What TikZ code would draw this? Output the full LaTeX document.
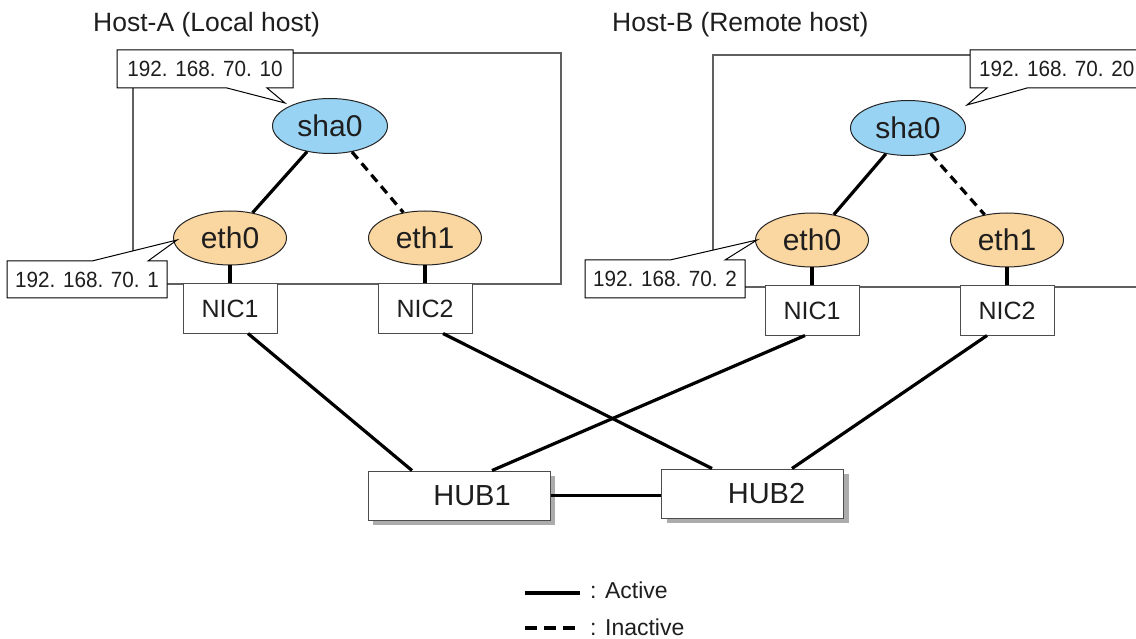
\documentclass[tikz,border=0pt]{standalone}
\usepackage{fontspec}
\setmainfont{Liberation Sans}
\usetikzlibrary{shapes.geometric,shadows,calc}
\definecolor{shablue}{RGB}{152,211,243}
\definecolor{ethorange}{RGB}{250,214,160}
\definecolor{txt}{RGB}{30,30,30}
\newcommand{\ipnum}[1]{\scalebox{0.94}[1]{#1}}
\begin{document}
\begin{tikzpicture}[x=1pt,y=-1pt,
  every node/.style={text=txt},
  hostbox/.style={draw=gray!75!black, line width=2pt},
  ifsha/.style={ellipse, draw=black!85, line width=1pt, fill=shablue, minimum width=115pt, minimum height=55pt, inner sep=0pt, font=\fontsize{30}{36}\selectfont},
  ifeth/.style={ellipse, draw=black!85, line width=1pt, fill=ethorange, minimum width=113pt, minimum height=54pt, inner sep=0pt, font=\fontsize{30}{36}\selectfont},
  nicbox/.style={draw=black!70, line width=1pt, fill=white, minimum width=94pt, minimum height=49pt, inner sep=0pt, font=\fontsize{25}{30}\selectfont},
  hubbox/.style={draw=black!70, line width=1pt, fill=white, minimum width=182pt, minimum height=49pt, inner sep=0pt, drop shadow={shadow xshift=5pt, shadow yshift=-5pt, fill=gray!65, opacity=1}, font=\fontsize{29}{34}\selectfont},
  callout/.style={draw=black, line width=1pt, fill=white},
  iptext/.style={font=\fontsize{22}{26}\selectfont, inner sep=0pt},
  title/.style={font=\fontsize{26.5}{32}\selectfont, inner sep=0pt, anchor=base west},
  legendtext/.style={font=\fontsize{23}{28}\selectfont, inner sep=0pt, anchor=base west},
  active/.style={draw=black, line width=3.2pt},
  inactive/.style={draw=black, line width=3.2pt, dash pattern=on 9pt off 6pt},
]
\fill[white] (0,0) rectangle (1136,639);
\useasboundingbox (0,0) rectangle (1136,639);
\clip (0,0) rectangle (1136,639);

% titles
\node[title] (titleA) at (93,32) {Host-A (Local host)};
\node[title] (titleB) at (612,32) {Host-B (Remote host)};

% host boxes
\draw[hostbox] (133,53) rectangle (561,284);
\draw[hostbox] (1145,55) -- (713,55) -- (713,287) -- (1145,287);

% interfaces
\node[ifsha] (shaA) at (330,126) {sha0};
\node[ifeth] (eth0A) at (230,238) {eth0};
\node[ifeth] (eth1A) at (425,238) {eth1};
\node[ifsha] (shaB) at (908,128) {sha0};
\node[ifeth] (eth0B) at (812,240) {eth0};
\node[ifeth] (eth1B) at (1007,240) {eth1};

% NICs
\node[nicbox] (nic1A) at (230,308.5) {NIC1};
\node[nicbox] (nic2A) at (425,308.5) {NIC2};
\node[nicbox] (nic1B) at (812,310.5) {NIC1};
\node[nicbox] (nic2B) at (1007,310.5) {NIC2};

% hubs
\node[hubbox] (hub1) at (459,495.5) {\hspace*{26pt}HUB1};
\node[hubbox] (hub2) at (752.5,493.5) {\hspace*{28pt}HUB2};

% callouts
\draw[callout] (117,50) -- (293,50) -- (293,88) -- (267,88) -- (285,103) -- (227,88) -- (117,88) -- cycle;
\node[iptext] (ipA0) at (205,69) {\ipnum{192. 168. 70. 10}};
\draw[callout] (7,261) -- (92,261) -- (177,240) -- (148,261) -- (167,261) -- (167,298) -- (7,298) -- cycle;
\node[iptext] (ipA1) at (87,279.5) {\ipnum{192. 168. 70. 1}};
\draw[callout] (585,260) -- (670,260) -- (757,240) -- (725,260) -- (745,260) -- (745,298) -- (585,298) -- cycle;
\node[iptext] (ipB1) at (665,279) {\ipnum{192. 168. 70. 2}};
\draw[callout] (970,50) -- (1145,50) -- (1145,88) -- (1027,88) -- (967,105) -- (987,88) -- (970,88) -- cycle;
\node[iptext, anchor=west] (ipB0) at (979,69) {\ipnum{192. 168. 70. 20}};

% connectors inside hosts
\draw[active] (shaA) -- (eth0A);
\draw[inactive] (shaA) -- (eth1A);
\draw[active] (shaB) -- (eth0B);
\draw[inactive] (shaB) -- (eth1B);
\draw[active] (eth0A.south) -- (nic1A.north);
\draw[active] (eth1A.south) -- (nic2A.north);
\draw[active] (eth0B.south) -- (nic1B.north);
\draw[active] (eth1B.south) -- (nic2B.north);

% NIC to HUB
\draw[active] ([xshift=18pt]nic1A.south) -- ([xshift=-47pt]hub1.north);
\draw[active] ([xshift=18pt]nic2A.south) -- ([xshift=-40.5pt]hub2.north);
\draw[active] ([xshift=-7pt]nic1B.south) -- ([xshift=33pt]hub1.north);
\draw[active] ([xshift=-20pt]nic2B.south) -- ([xshift=39.5pt]hub2.north);
\draw[active] (hub1.east) -- (hub1.east -| hub2.west);

% legend
\coordinate (la1) at (525,593);
\coordinate (la2) at (580,593);
\coordinate (li1) at (525,628);
\coordinate (li2) at (580,628);
\draw[active] (la1) -- (la2);
\draw[inactive, dash pattern=on 12pt off 7pt] (li1) -- (li2);
\node[legendtext] (lat) at (590,598) {: Active};
\node[legendtext] (lit) at (590,635) {: Inactive};
\end{tikzpicture}
\end{document}
